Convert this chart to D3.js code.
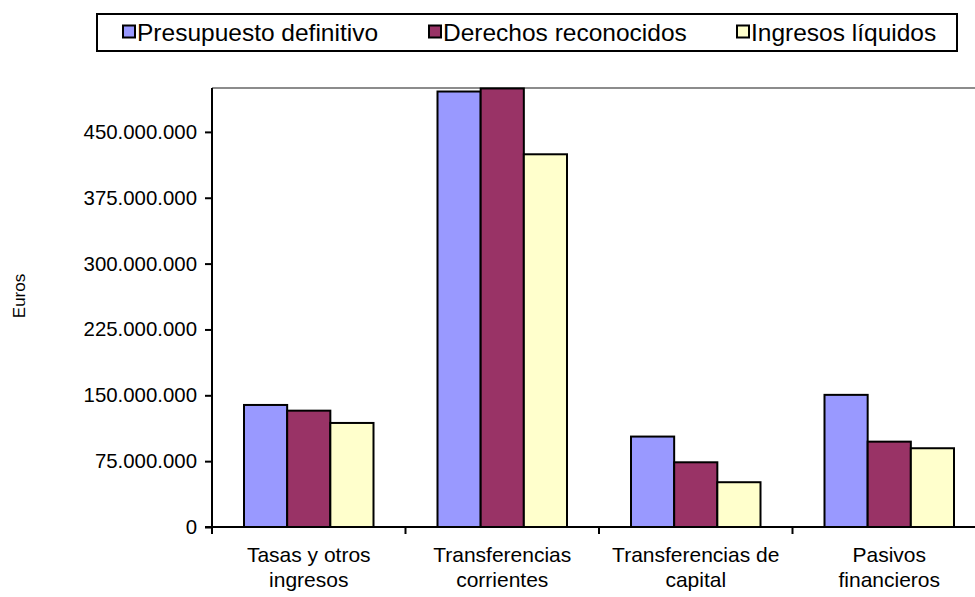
<!DOCTYPE html>
<html><head><meta charset="utf-8">
<script src="https://cdn.jsdelivr.net/npm/d3@7"></script>
<style>body{margin:0;background:#fff}svg{display:block}text{font-family:"Liberation Sans",Arial,sans-serif}</style>
</head><body><svg id="c" width="975" height="597"></svg>
<script>
const categories = [["Tasas y otros","ingresos"],["Transferencias","corrientes"],["Transferencias de","capital"],["Pasivos","financieros"]];
const series = ["Presupuesto definitivo","Derechos reconocidos","Ingresos líquidos"];
const presupuesto = [139000000, 496000000, 103000000, 150500000];
const derechos = [132500000, 499500000, 73700000, 97200000];
const ingresos = [118500000, 424500000, 51000000, 89700000];
const yTicks = [0,75000000,150000000,225000000,300000000,375000000,450000000];
const colors = ["#9999FF","#993366","#FFFFCC"];

(function(){
const svg = d3.select("#c");
const pL = 212, pR = 986, pT = 88, pB = 527;
const catIdx = categories.map((d,i)=>i);
const x0 = d3.scaleBand().domain(catIdx).range([pL,pR]);
const x1 = d3.scaleBand().domain(series).range([32, x0.bandwidth()-32]);
const y = d3.scaleLinear().domain([0,500000000]).range([pB,pT]);
const fmt = v => d3.format(",")(v).replace(/,/g,".");

svg.append("line").attr("x1",pL).attr("x2",pR).attr("y1",pT).attr("y2",pT).attr("stroke","#8c8c8c").attr("stroke-width",2);

const vals = [presupuesto, derechos, ingresos];
series.forEach((s,si)=>{
  svg.append("g").selectAll("rect").data(vals[si]).join("rect")
    .attr("x",(d,i)=>x0(i)+x1(s)).attr("width",x1.bandwidth())
    .attr("y",d=>y(d)).attr("height",d=>pB-y(d))
    .attr("fill",colors[si]).attr("stroke","#000").attr("stroke-width",2);
});

const ya = svg.append("g").attr("transform",`translate(${pL},0)`)
  .call(d3.axisLeft(y).tickValues(yTicks).tickFormat(fmt).tickSize(7).tickPadding(8));
ya.select(".domain").attr("stroke","#000").attr("stroke-width",2).attr("d",`M0,${pT}V${pB}`);
ya.selectAll(".tick line").attr("stroke","#000").attr("stroke-width",2);
ya.selectAll(".tick text").attr("font-size",20.4).attr("fill","#000").attr("font-family","Liberation Sans, Arial, sans-serif");

svg.append("line").attr("x1",pL-7).attr("x2",pR).attr("y1",pB).attr("y2",pB).attr("stroke","#000").attr("stroke-width",2);
svg.append("g").selectAll("line").data(d3.range(categories.length+1)).join("line")
  .attr("x1",i=>pL+i*x0.bandwidth()).attr("x2",i=>pL+i*x0.bandwidth())
  .attr("y1",pB).attr("y2",pB+7).attr("stroke","#000").attr("stroke-width",2);
const cl = svg.append("g").selectAll("text").data(categories).join("text")
  .attr("x",(d,i)=>x0(i)+x0.bandwidth()/2).attr("y",562)
  .attr("text-anchor","middle").attr("font-size",21).attr("fill","#000");
cl.selectAll("tspan").data(d=>d).join("tspan")
  .attr("x",function(){return this.parentNode.getAttribute("x");})
  .attr("dy",(d,i)=>i?25:0).text(d=>d);

svg.append("text").attr("transform","translate(25,296) rotate(-90)").attr("text-anchor","middle")
  .attr("font-size",17).text("Euros");

svg.append("rect").attr("x",97).attr("y",14).attr("width",860).attr("height",37).attr("fill","#fff").attr("stroke","#000").attr("stroke-width",2);
const legX = [123,429,737];
series.forEach((s,si)=>{
  svg.append("rect").attr("x",legX[si]).attr("y",25.5).attr("width",12).attr("height",12)
    .attr("fill",colors[si]).attr("stroke","#000").attr("stroke-width",2);
  svg.append("text").attr("x",legX[si]+14).attr("y",40.5).attr("font-size",24.5).text(s);
});
})();
</script></body></html>
